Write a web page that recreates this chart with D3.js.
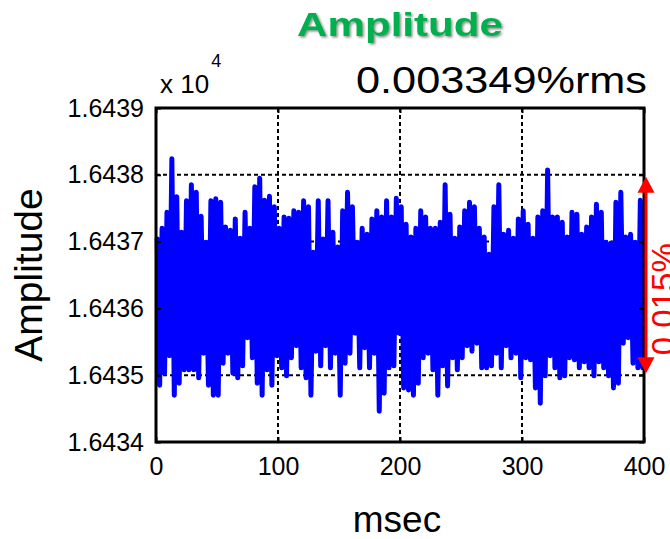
<!DOCTYPE html>
<meta charset="utf-8">
<head>
<script src="https://cdn.jsdelivr.net/npm/d3@7/dist/d3.min.js"></script>
<style>
  body { margin: 0; background: #fff; }
  svg text { font-family: "Liberation Sans", Arial, sans-serif; }
  .tick line { stroke: #000; stroke-width: 2px; }
  .tick text { font-size: 25px; fill: #000; }
  .grid line { stroke: #000; stroke-width: 2px; stroke-dasharray: 4,3; }
</style>
</head>
<body>
<div id="chart"></div>
<script>
// tick values
var xTicks = [0, 100, 200, 300, 400];
var yTicks = [16434, 16435, 16436, 16437, 16438, 16439];

// signal: upper swings at t = 4k+1 ms, lower swings at t = 4k+3 ms
var hiVals = [
  16437.04, 16437.20, 16437.44, 16438.24, 16437.67, 16437.14, 16437.61, 16437.85, 16437.74, 16437.38,
  16436.99, 16437.61, 16437.64, 16437.59, 16437.22, 16437.17, 16437.34, 16437.05, 16437.44, 16437.20,
  16437.82, 16437.95, 16437.62, 16437.68, 16437.52, 16437.20, 16437.37, 16437.35, 16437.46, 16437.44,
  16437.61, 16437.52, 16436.84, 16437.61, 16437.04, 16437.61, 16437.14, 16436.92, 16437.46, 16437.74,
  16437.52, 16436.99, 16437.20, 16437.11, 16437.34, 16437.46, 16437.37, 16437.61, 16437.37, 16437.65,
  16437.52, 16437.26, 16437.07, 16437.20, 16437.46, 16437.37, 16437.20, 16437.20, 16437.29, 16437.85,
  16437.41, 16437.05, 16437.22, 16437.46, 16437.59, 16437.52, 16437.20, 16437.07, 16436.81, 16437.52,
  16437.85, 16437.11, 16437.17, 16437.05, 16437.34, 16437.46, 16437.26, 16437.05, 16437.37, 16437.46,
  16438.07, 16437.37, 16437.37, 16437.29, 16437.07, 16437.44, 16437.41, 16437.11, 16437.22, 16437.37,
  16437.56, 16437.44, 16436.99, 16436.98, 16437.59, 16437.74, 16437.07, 16437.11, 16436.99, 16437.62
];
var loVals = [
  16434.85, 16435.03, 16435.29, 16434.70, 16434.88, 16435.08, 16435.08, 16435.08, 16434.96, 16435.33,
  16434.85, 16434.70, 16434.70, 16435.18, 16435.33, 16435.03, 16434.96, 16435.14, 16435.56, 16435.26,
  16434.88, 16434.70, 16435.08, 16434.85, 16435.29, 16435.11, 16434.99, 16435.26, 16435.44, 16435.11,
  16434.96, 16434.70, 16435.36, 16435.14, 16435.44, 16435.11, 16435.33, 16434.70, 16435.18, 16435.33,
  16435.63, 16435.11, 16435.41, 16435.11, 16435.33, 16434.46, 16434.73, 16435.11, 16435.14, 16435.63,
  16434.81, 16434.78, 16434.70, 16434.88, 16435.26, 16435.33, 16435.08, 16434.70, 16435.14, 16434.84,
  16435.26, 16435.08, 16435.26, 16435.44, 16435.36, 16435.48, 16435.11, 16435.11, 16435.14, 16435.33,
  16435.11, 16435.44, 16435.26, 16435.33, 16434.96, 16435.26, 16435.23, 16434.81, 16434.58, 16434.99,
  16435.29, 16435.11, 16434.96, 16434.99, 16435.26, 16435.23, 16435.11, 16435.20, 16435.11, 16434.99,
  16435.20, 16435.11, 16434.99, 16434.81, 16434.88, 16435.48, 16435.56, 16435.18, 16435.11, 16435.11
];

var width = 670, height = 539;
var margin = {top: 108, right: 26, bottom: 97, left: 156};
var plotW = width - margin.left - margin.right,
    plotH = height - margin.top - margin.bottom;

var svg = d3.select("#chart").append("svg")
    .attr("width", width)
    .attr("height", height);

var defs = svg.append("defs");
var shadow = defs.append("filter").attr("id", "shadow")
    .attr("x", "-10%").attr("y", "-20%").attr("width", "130%").attr("height", "160%");
shadow.append("feDropShadow")
    .attr("dx", 1.5).attr("dy", 1.5).attr("stdDeviation", 1)
    .attr("flood-color", "#404040").attr("flood-opacity", 0.6);

var x = d3.scaleLinear().domain([0, 400]).range([0, plotW]);
var y = d3.scaleLinear().domain([16434, 16439]).range([plotH, 0]);

var g = svg.append("g")
    .attr("transform", "translate(" + margin.left + "," + margin.top + ")");

// dashed grid under the signal
var grid = g.append("g").attr("class", "grid");
grid.selectAll(".vg")
    .data(xTicks.slice(1, -1))
    .enter().append("line")
    .attr("x1", d => x(d)).attr("x2", d => x(d))
    .attr("y1", 0).attr("y2", plotH);
grid.selectAll(".hg")
    .data(yTicks.slice(1, -1))
    .enter().append("line")
    .attr("x1", 0).attr("x2", plotW)
    .attr("y1", d => y(d)).attr("y2", d => y(d));

// build series
var series = [];
for (var k = 0; k < hiVals.length; k++) {
    series.push({t: 4 * k + 1, v: hiVals[k]});
    series.push({t: 4 * k + 3, v: loVals[k]});
}

var line = d3.line()
    .x(d => x(d.t))
    .y(d => y(d.v));

g.append("path")
    .datum(series)
    .attr("d", line)
    .attr("fill", "none")
    .attr("stroke", "#0000ff")
    .attr("stroke-width", 5)
    .attr("stroke-linejoin", "round")
    .attr("stroke-linecap", "round");

// axes with inner ticks
var fmt = d => (d / 1e4).toFixed(4);
g.append("g")
    .call(d3.axisLeft(y).tickValues(yTicks).tickFormat(fmt).tickSize(-5).tickPadding(12))
    .call(a => a.select(".domain").remove());
g.append("g")
    .attr("transform", "translate(0," + plotH + ")")
    .call(d3.axisBottom(x).tickValues(xTicks).tickSize(-5).tickPadding(15))
    .call(a => a.select(".domain").remove());
g.append("g")
    .attr("transform", "translate(" + plotW + ",0)")
    .call(d3.axisRight(y).tickValues(yTicks).tickFormat("").tickSize(-5))
    .call(a => a.select(".domain").remove());
g.append("g")
    .call(d3.axisTop(x).tickValues(xTicks).tickFormat("").tickSize(-5))
    .call(a => a.select(".domain").remove());

g.append("rect")
    .attr("width", plotW).attr("height", plotH)
    .attr("fill", "none")
    .attr("stroke", "#000")
    .attr("stroke-width", 3);

// red peak-to-peak arrow
var ax = plotW + 2;
var yTop = y(16438), yBot = y(16435);
g.append("line")
    .attr("x1", ax).attr("x2", ax)
    .attr("y1", yTop + 10).attr("y2", yBot - 10)
    .attr("stroke", "#ff0000").attr("stroke-width", 3);
g.append("path")
    .attr("d", "M" + ax + "," + (yTop + 2) + "L" + (ax - 8.5) + "," + (yTop + 18) + "L" + (ax + 8.5) + "," + (yTop + 18) + "Z")
    .attr("fill", "#ff0000");
g.append("path")
    .attr("d", "M" + ax + "," + (yBot - 2) + "L" + (ax - 8.5) + "," + (yBot - 18) + "L" + (ax + 8.5) + "," + (yBot - 18) + "Z")
    .attr("fill", "#ff0000");
g.append("text")
    .attr("transform", "translate(" + (plotW + 31) + "," + (yBot - 20) + ") rotate(-90)")
    .attr("fill", "#ff0000")
    .style("font-size", "33px")
    .text("0.015%");

// titles and labels
svg.append("text")
    .attr("x", 400).attr("y", 36)
    .attr("text-anchor", "middle")
    .attr("fill", "#00b050")
    .attr("filter", "url(#shadow)")
    .attr("textLength", 206).attr("lengthAdjust", "spacingAndGlyphs")
    .style("font-size", "34px").style("font-weight", "bold")
    .text("Amplitude");

svg.append("text")
    .attr("x", 356).attr("y", 93)
    .attr("textLength", 291).attr("lengthAdjust", "spacingAndGlyphs")
    .style("font-size", "36px")
    .text("0.003349%rms");

var mult = svg.append("text").attr("x", 160).attr("y", 93).style("font-size", "26px");
mult.append("tspan").text("x 10");
mult.append("tspan").attr("dx", 2).attr("y", 67).style("font-size", "18px").text("4");

svg.append("text")
    .attr("transform", "translate(42,275) rotate(-90)")
    .attr("text-anchor", "middle")
    .style("font-size", "39px")
    .text("Amplitude");

svg.append("text")
    .attr("x", 397).attr("y", 532)
    .attr("text-anchor", "middle")
    .style("font-size", "37px")
    .text("msec");
</script>
</body>
</html>
